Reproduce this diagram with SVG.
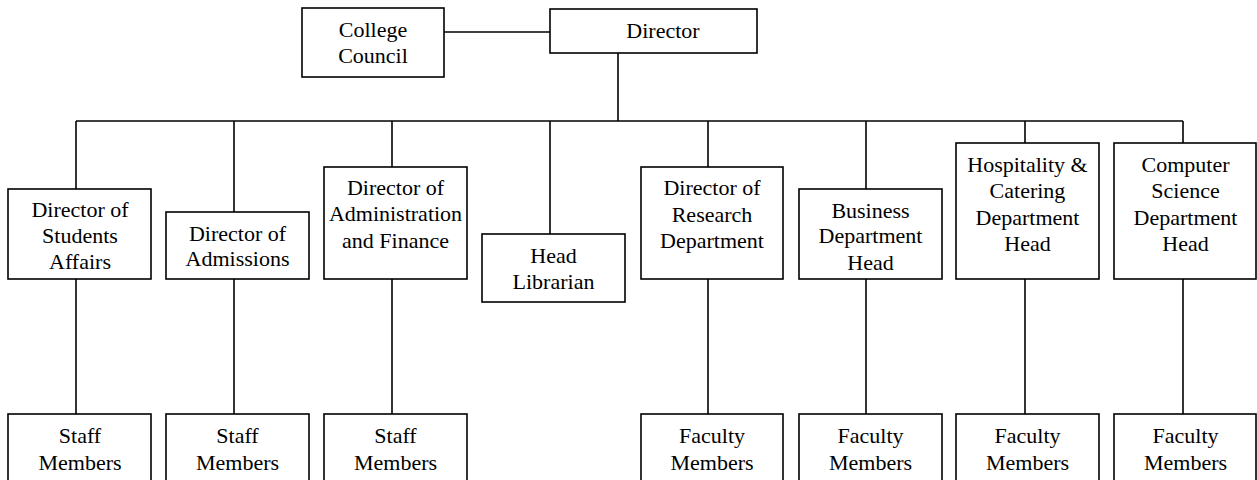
<svg xmlns="http://www.w3.org/2000/svg" width="1257" height="480" viewBox="0 0 1257 480">
<style>
.box{fill:#fff;stroke:#000;stroke-width:1.6}
.ln{stroke:#000;stroke-width:1.6;fill:none}
text{font-family:"Liberation Serif","Times New Roman",serif;font-size:22px;fill:#000;text-anchor:middle}
</style>
<rect width="1257" height="480" fill="#fff"/>
<g id="connectors">
<line class="ln" x1="437" y1="32" x2="550" y2="32"/>
<line class="ln" x1="618" y1="53" x2="618" y2="121"/>
<line class="ln" x1="76" y1="121" x2="1183" y2="121"/>
<line class="ln" x1="76" y1="121" x2="76" y2="189"/>
<line class="ln" x1="234" y1="121" x2="234" y2="212"/>
<line class="ln" x1="392" y1="121" x2="392" y2="167"/>
<line class="ln" x1="550" y1="121" x2="550" y2="234"/>
<line class="ln" x1="708" y1="121" x2="708" y2="167"/>
<line class="ln" x1="866" y1="121" x2="866" y2="189"/>
<line class="ln" x1="1025" y1="121" x2="1025" y2="143"/>
<line class="ln" x1="1183" y1="121" x2="1183" y2="143"/>
<line class="ln" x1="76" y1="279" x2="76" y2="414"/>
<line class="ln" x1="234" y1="279" x2="234" y2="414"/>
<line class="ln" x1="392" y1="279" x2="392" y2="414"/>
<line class="ln" x1="708" y1="279" x2="708" y2="414"/>
<line class="ln" x1="866" y1="279" x2="866" y2="414"/>
<line class="ln" x1="1025" y1="279" x2="1025" y2="414"/>
<line class="ln" x1="1183" y1="279" x2="1183" y2="414"/>
</g>
<g id="college-council"><rect class="box" x="302" y="8" width="142" height="69"/><text x="373" y="37">College</text><text x="373" y="63">Council</text></g>
<g id="director"><rect class="box" x="550" y="9" width="207" height="44"/><text x="663" y="38">Director</text></g>
<g id="dir-students"><rect class="box" x="8" y="189" width="143" height="90"/><text x="80" y="217">Director of</text><text x="80" y="243">Students</text><text x="80" y="269">Affairs</text></g>
<g id="dir-admissions"><rect class="box" x="166" y="212" width="143" height="67"/><text x="237.5" y="241">Director of</text><text x="237.5" y="266">Admissions</text></g>
<g id="dir-admin"><rect class="box" x="324" y="167" width="143" height="112"/><text x="395.5" y="195">Director of</text><text x="395.5" y="221">Administration</text><text x="395.5" y="248">and Finance</text></g>
<g id="head-librarian"><rect class="box" x="482" y="234" width="143" height="68"/><text x="553.5" y="263">Head</text><text x="553.5" y="289">Librarian</text></g>
<g id="dir-research"><rect class="box" x="641" y="167" width="142" height="112"/><text x="712" y="195">Director of</text><text x="712" y="222">Research</text><text x="712" y="248">Department</text></g>
<g id="business-head"><rect class="box" x="799" y="189" width="143" height="90"/><text x="870.5" y="218">Business</text><text x="870.5" y="243">Department</text><text x="870.5" y="270">Head</text></g>
<g id="hospitality-head"><rect class="box" x="956" y="143" width="143" height="136"/><text x="1027.5" y="172">Hospitality &amp;</text><text x="1027.5" y="198">Catering</text><text x="1027.5" y="225">Department</text><text x="1027.5" y="251">Head</text></g>
<g id="cs-head"><rect class="box" x="1114" y="143" width="142" height="136"/><text x="1185.5" y="172">Computer</text><text x="1185.5" y="198">Science</text><text x="1185.5" y="225">Department</text><text x="1185.5" y="251">Head</text></g>
<g id="staff-1"><rect class="box" x="8" y="414" width="143" height="80"/><text x="80" y="443">Staff</text><text x="80" y="470">Members</text></g>
<g id="staff-2"><rect class="box" x="166" y="414" width="143" height="80"/><text x="237.5" y="443">Staff</text><text x="237.5" y="470">Members</text></g>
<g id="staff-3"><rect class="box" x="324" y="414" width="143" height="80"/><text x="395.5" y="443">Staff</text><text x="395.5" y="470">Members</text></g>
<g id="faculty-1"><rect class="box" x="641" y="414" width="142" height="80"/><text x="712" y="443">Faculty</text><text x="712" y="470">Members</text></g>
<g id="faculty-2"><rect class="box" x="799" y="414" width="143" height="80"/><text x="870.5" y="443">Faculty</text><text x="870.5" y="470">Members</text></g>
<g id="faculty-3"><rect class="box" x="956" y="414" width="143" height="80"/><text x="1027.5" y="443">Faculty</text><text x="1027.5" y="470">Members</text></g>
<g id="faculty-4"><rect class="box" x="1114" y="414" width="142" height="80"/><text x="1185.5" y="443">Faculty</text><text x="1185.5" y="470">Members</text></g>
</svg>
